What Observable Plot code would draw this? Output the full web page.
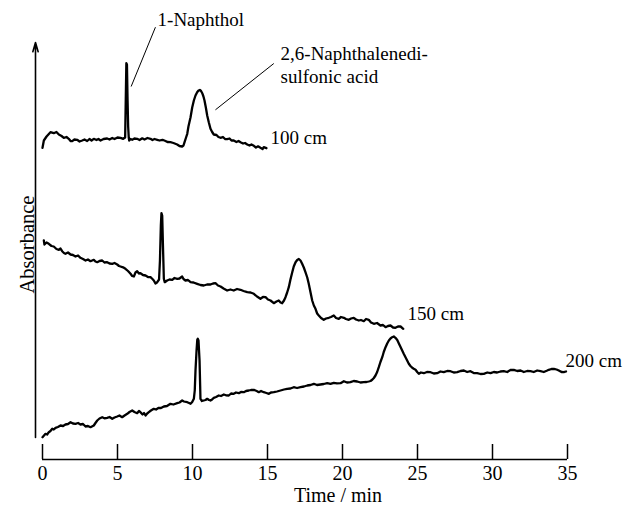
<!DOCTYPE html>
<html><head><meta charset="utf-8">
<script src="https://cdn.jsdelivr.net/npm/d3@7"></script>
<script src="https://cdn.jsdelivr.net/npm/@observablehq/plot@0.6"></script>
<style>body{margin:0;background:#fff;}</style>
</head><body><div id="chart"></div>
<script>
const timeTicks = [0, 5, 10, 15, 20, 25, 30, 35];
const columnLengths = ["100 cm", "150 cm", "200 cm"];
const trace100 = [[0,311.7],[0.09,319],[0.27,323],[0.53,327.3],[0.75,326.3],[0.93,327.5],[1.09,325],[1.27,323.5],[1.42,321.7],[1.6,322.5],[1.75,320.7],[1.87,318.5],[1.98,318.3],[2.13,320],[2.31,319.7],[2.47,318],[2.65,319],[2.8,320],[2.98,318.5],[3.13,320.5],[3.27,319],[3.42,320.7],[3.6,319.5],[3.73,320.5],[3.87,319],[4.07,320.5],[4.31,321],[4.47,320],[4.65,321.5],[4.8,320.5],[5.0,322],[5.2,321.7],[5.38,320.7],[5.51,322],[5.55,359],[5.59,396.3],[5.63,395],[5.67,360],[5.71,333],[5.75,322],[5.78,319],[5.87,320.5],[5.98,319.7],[6.13,321],[6.31,320.7],[6.47,319.5],[6.65,321.2],[6.8,320],[7.0,321.5],[7.2,320.7],[7.33,319.5],[7.47,320.5],[7.65,319.7],[7.8,319],[8.0,319.7],[8.2,318.5],[8.33,317.5],[8.53,317.3],[8.73,316.5],[8.98,315],[9.13,313.5],[9.31,313],[9.4,314],[9.47,317.3],[9.57,322],[9.65,325.7],[9.73,333],[9.87,342.3],[9.98,352],[10.09,359],[10.2,364],[10.31,367.3],[10.4,369],[10.49,369.5],[10.57,368.5],[10.65,366.3],[10.73,363],[10.8,359],[10.89,352],[10.98,344],[11.09,337],[11.2,330.7],[11.31,327.5],[11.42,325],[11.6,324.5],[11.73,322.5],[11.87,321.7],[12.03,322.5],[12.17,320.5],[12.31,320.3],[12.47,321],[12.6,319],[12.75,319],[12.93,317.5],[13.07,318.5],[13.2,317.3],[13.37,316],[13.5,316.5],[13.65,315],[13.8,314],[13.93,315],[14.09,313.7],[14.23,312],[14.37,313.2],[14.53,311.7],[14.67,310.5],[14.75,312.3],[14.93,311.3]];
const trace150 = [[0.09,219],[0.13,215],[0.27,217],[0.42,215.7],[0.6,213.5],[0.75,213],[0.93,210.5],[1.09,209.7],[1.2,211],[1.31,208.3],[1.43,206.5],[1.53,205.7],[1.7,207],[1.87,205],[2.03,204.5],[2.2,203],[2.37,204],[2.53,201.7],[2.7,200.5],[2.87,199],[3.03,200],[3.2,198.3],[3.42,199.7],[3.53,198],[3.65,197.3],[3.8,198.5],[3.98,199],[4.13,197],[4.31,197.3],[4.47,196],[4.65,195.7],[4.8,196.5],[4.98,195],[5.1,193.5],[5.2,193],[5.37,192.2],[5.53,190.7],[5.7,188.5],[5.87,185.7],[5.98,183.5],[6.09,183],[6.2,187],[6.31,188.3],[6.43,186],[6.53,186.3],[6.7,184.5],[6.87,184],[7.03,182.5],[7.2,182.3],[7.33,180.5],[7.42,179],[7.53,176],[7.65,177.3],[7.77,180],[7.83,199],[7.89,234],[7.93,246.3],[7.98,244],[8.03,214],[8.09,180.7],[8.15,177.3],[8.31,179],[8.47,180],[8.65,179.7],[8.8,181.5],[8.98,180.7],[9.13,181],[9.31,183],[9.4,180.5],[9.53,179],[9.7,179.5],[9.87,177.3],[10.07,177],[10.31,175.7],[10.53,174.5],[10.75,174],[10.97,175],[11.2,175],[11.37,176],[11.53,176.3],[11.7,174],[11.87,173],[12.07,171],[12.31,169],[12.53,170],[12.75,169],[12.97,170.5],[13.2,169.7],[13.4,168.5],[13.65,167.3],[13.87,167],[14.09,165.7],[14.3,163],[14.53,160.7],[14.7,162.5],[14.87,162.3],[15.03,160],[15.2,159],[15.42,156.3],[15.6,158],[15.75,159],[15.87,157],[15.98,156.3],[16.1,159],[16.2,162.3],[16.31,167],[16.42,172.3],[16.53,180],[16.65,187.3],[16.75,193],[16.87,197.3],[16.98,199.5],[17.09,200.5],[17.2,199],[17.31,195.7],[17.42,192],[17.53,187.3],[17.65,182],[17.75,175.7],[17.87,167],[17.98,159],[18.09,154],[18.2,150.7],[18.31,146],[18.42,144],[18.57,141.5],[18.75,139.7],[18.9,141],[19.09,141.7],[19.23,142.5],[19.42,144],[19.57,141.5],[19.75,140.7],[19.9,142.5],[20.09,141.7],[20.23,140.5],[20.42,139.7],[20.57,141],[20.75,141.7],[20.9,140],[21.09,139],[21.23,139.5],[21.42,138.3],[21.57,140.5],[21.75,139.7],[21.9,137],[22.09,135.7],[22.3,136.5],[22.53,134],[22.7,134.5],[22.87,132.3],[23.03,133.5],[23.2,134],[23.37,132],[23.53,131.7],[23.7,133],[23.87,133],[24.05,130.7]];
const trace200 = [[0,22.3],[0.1,24],[0.2,25.7],[0.31,25],[0.42,27.3],[0.53,28.5],[0.65,30.7],[0.75,30],[0.87,31.7],[1.03,32.5],[1.2,34],[1.37,33.5],[1.53,35],[1.7,35.5],[1.87,37.3],[2.03,36],[2.2,35.7],[2.37,36.5],[2.53,35],[2.7,35.5],[2.87,33],[3.03,33.5],[3.2,32.3],[3.42,34],[3.53,36.5],[3.65,39],[3.8,41],[3.98,42.3],[4.13,41.2],[4.31,41.7],[4.47,42.5],[4.65,40.7],[4.8,42],[4.98,43],[5.13,44],[5.31,42.3],[5.47,44],[5.65,45.7],[5.8,47.5],[5.98,49],[6.13,47.5],[6.31,46.3],[6.43,48.5],[6.53,47.3],[6.67,45],[6.77,46.5],[6.87,44],[6.98,46],[7.09,47.3],[7.23,49],[7.42,50.7],[7.57,50],[7.75,51.7],[7.9,51.5],[8.09,53],[8.3,53.5],[8.53,55.7],[8.73,55],[8.98,56.3],[9.13,57],[9.31,59],[9.43,58],[9.65,57.3],[9.77,56.5],[9.87,55.7],[9.98,57.5],[10.09,60.7],[10.15,69],[10.2,89],[10.27,109],[10.32,120],[10.35,120.7],[10.4,119],[10.47,99],[10.51,74],[10.53,60.7],[10.63,58.5],[10.75,59],[10.87,59.5],[10.98,60.7],[11.1,59.5],[11.2,59],[11.31,60],[11.42,61.7],[11.57,62.5],[11.75,64],[11.9,63.5],[12.09,65],[12.23,64.2],[12.42,64],[12.57,66],[12.75,65.7],[12.9,67],[13.09,66.3],[13.23,67.5],[13.42,67.3],[13.57,68.5],[13.75,69],[13.9,69.5],[14.09,69.7],[14.31,68.3],[14.42,67.3],[14.57,68.5],[14.75,67.3],[14.93,66.5],[15.09,65.7],[15.23,67],[15.42,67.3],[15.63,68],[15.87,69],[16.1,70],[16.31,70.7],[16.53,71],[16.75,72.3],[16.97,71.5],[17.2,72.3],[17.43,73],[17.65,74],[17.87,74.5],[18.09,75.7],[18.3,74.5],[18.53,75],[18.75,75.5],[18.98,76.3],[19.2,75.7],[19.42,76.7],[19.63,76.2],[19.87,76.3],[20.09,78.3],[20.3,77],[20.53,77.3],[20.75,78.5],[20.98,78],[21.2,77],[21.42,77.3],[21.6,77.5],[21.75,78],[21.87,78.5],[21.98,79.7],[22.09,81.5],[22.2,84],[22.31,87.5],[22.42,92.3],[22.53,97.5],[22.65,102.3],[22.75,107.5],[22.87,112.3],[22.98,116],[23.09,119],[23.2,121],[23.31,122.3],[23.42,123],[23.53,121.7],[23.65,119.5],[23.75,116.3],[23.87,112.5],[23.98,109],[24.09,105.5],[24.2,102.3],[24.31,99],[24.42,95.7],[24.53,93.5],[24.65,91.7],[24.75,90.7],[24.87,89.7],[24.98,87.5],[25.09,85.7],[25.23,87],[25.42,86.3],[25.63,87.5],[25.87,87.3],[26.09,86],[26.31,86.3],[26.53,88],[26.75,87.3],[26.98,88.5],[27.2,88.3],[27.42,87],[27.65,87.3],[27.87,88.5],[28.09,89],[28.31,87.5],[28.53,88.3],[28.75,86.5],[28.98,86.3],[29.2,85.5],[29.42,85.7],[29.65,87],[29.87,86.3],[30.09,87.5],[30.31,87],[30.53,88],[30.75,88.3],[30.98,87.5],[31.2,89.5],[31.42,89.7],[31.65,88.5],[31.87,89],[32.09,87.5],[32.31,88.5],[32.53,88.3],[32.75,87.5],[32.98,89],[33.2,88.3],[33.42,87.5],[33.65,89],[33.75,89.7],[33.93,90.5],[34.09,90.7],[34.27,90],[34.42,89],[34.6,87.5],[34.75,87.3],[34.9,88]];
const lengthLabelTime = [15.2, 24.33, 34.87];
const lengthLabelAbs = [316, 140, 93];
const peakNames = ["1-Naphthol", "2,6-Naphthalenedi-\nsulfonic acid"];
const peakLabelTime = [7.67, 15.87];
const peakLabelAbs = [434, 376.3];
const leaderStartTime = [7.53, 15.42];
const leaderStartAbs = [432.3, 396];
const leaderEndTime = [5.91, 11.53];
const leaderEndAbs = [373, 349.7];
const yDomain = [0, 417];

const rows = [trace100, trace150, trace200].flatMap((tr, i) => tr.map(([t, a]) => ({t, a, s: columnLengths[i]})));
const lenLabels = columnLengths.map((s, i) => ({s, t: lengthLabelTime[i], a: lengthLabelAbs[i]}));
const peakLabels = peakNames.map((s, i) => ({s, t: peakLabelTime[i], a: peakLabelAbs[i]}));
const leaders = leaderStartTime.map((t, i) => ({t1: t, a1: leaderStartAbs[i], t2: leaderEndTime[i], a2: leaderEndAbs[i]}));
const axisArrow = [{t: timeTicks[0], a1: yDomain[0], a2: yDomain[1]}];

const serif = "'Liberation Serif', 'Times New Roman', Times, serif";
const chart = Plot.plot({
  width: 626, height: 506,
  marginLeft: 42, marginRight: 59, marginTop: 42, marginBottom: 47,
  x: {domain: [0, 35]},
  y: {domain: yDomain, axis: null},
  style: {fontFamily: serif, fontSize: "20px", color: "#000", background: "#fff", overflow: "visible"},
  marks: [
    Plot.ruleY([yDomain[0]], {stroke: "#000", strokeWidth: 1.5}),
    Plot.axisX({ticks: timeTicks, tickSize: -15, tickPadding: 21, strokeWidth: 1.5, fontSize: 20, label: null, stroke: "#000", fill: "#000"}),
    Plot.text(["Time / min"], {frameAnchor: "bottom", dx: 33, dy: 42.5, lineAnchor: "bottom", fontSize: 20, fill: "#000"}),
    Plot.text(["Absorbance"], {frameAnchor: "left", textAnchor: "middle", rotate: -90, dx: -9, dy: -6.5, lineAnchor: "bottom", fontSize: 20.5, fill: "#000"}),
    Plot.arrow(axisArrow, {x1: "t", x2: "t", y1: "a1", y2: "a2", insetStart: 22, dx: -7, headLength: 9, headAngle: 32, strokeWidth: 1.6, stroke: "#000"}),
    Plot.link(leaders, {x1: "t1", y1: "a1", x2: "t2", y2: "a2", stroke: "#000", strokeWidth: 1}),
    Plot.line(rows, {x: "t", y: "a", z: "s", stroke: "#000", strokeWidth: 2.3, strokeLinejoin: "round"}),
    Plot.text(lenLabels, {x: "t", y: "a", text: "s", textAnchor: "start", lineAnchor: "bottom", fontSize: 19, fill: "#000"}),
    Plot.text(peakLabels, {x: "t", y: "a", text: "s", textAnchor: "start", lineAnchor: "bottom", lineHeight: 1.22, fontSize: 19, fill: "#000"})
  ]
});
document.getElementById("chart").appendChild(chart);
</script></body></html>
